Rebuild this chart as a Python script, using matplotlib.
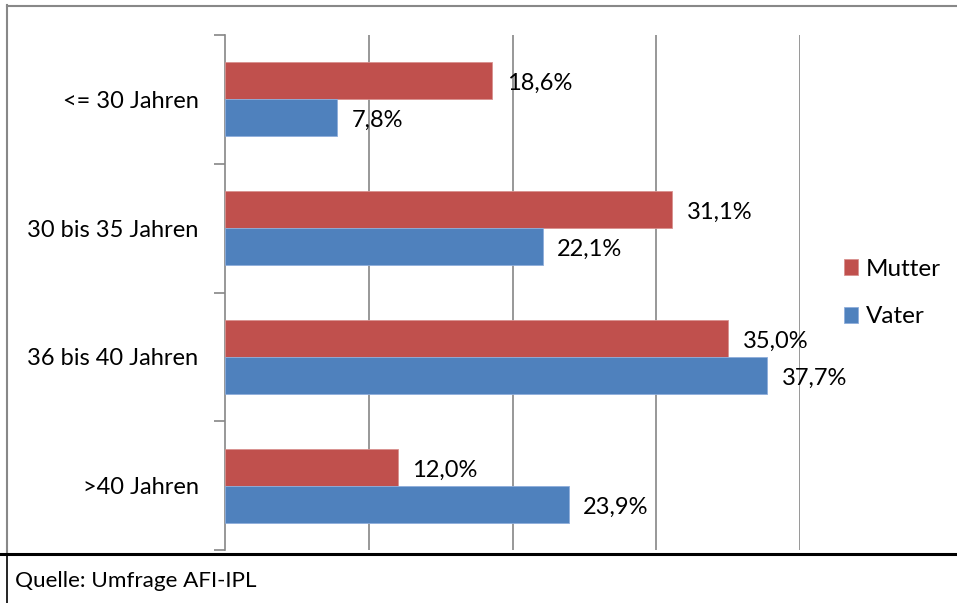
import matplotlib
matplotlib.use('Agg')
import matplotlib.pyplot as plt
from matplotlib.lines import Line2D
import numpy as np

# data
categories = ['<= 30 Jahren', '30 bis 35 Jahren', '36 bis 40 Jahren', '>40 Jahren']
mutter = [18.6, 31.1, 35.0, 12.0]
vater = [7.8, 22.1, 37.7, 23.9]
series_names = ['Mutter', 'Vater']
source = 'Quelle: Umfrage AFI-IPL'

red = '#C0504D'
blue = '#4F81BD'
grid_col = '#868686'

plt.rcParams['font.family'] = ['Lato', 'DejaVu Sans']

W, H = 957, 603
fig = plt.figure(figsize=(W / 100, H / 100), dpi=100)

# plot area in pixel coords
left, right, top, bottom = 225, 800, 35, 550
ax = fig.add_axes([left / W, 1 - bottom / H, (right - left) / W, (bottom - top) / H])

n = len(categories)
ypos = np.arange(n)[::-1]  # first category on top
h = 0.287

ax.barh(ypos + h / 2, mutter, height=h, color=red, edgecolor='#D9918F', linewidth=0.6,
        label=series_names[0], zorder=3)
ax.barh(ypos - h / 2, vater, height=h, color=blue, edgecolor='#8FAEDB', linewidth=0.6,
        label=series_names[1], zorder=3)

for y, m, v in zip(ypos, mutter, vater):
    ax.annotate(f'{m:.1f}%'.replace('.', ','), (m, y + h / 2), xytext=(10.5, -2),
                textcoords='offset points', va='center', ha='left', fontsize=17, zorder=4)
    ax.annotate(f'{v:.1f}%'.replace('.', ','), (v, y - h / 2), xytext=(10.5, -2),
                textcoords='offset points', va='center', ha='left', fontsize=17, zorder=4)

ax.set_xlim(0, 40)
ax.set_ylim(-0.5, n - 0.5)
ax.set_xticks([10, 20, 30, 40])
ax.xaxis.grid(True, color=grid_col, linewidth=1.2, zorder=0)
ax.tick_params(axis='x', length=0, labelbottom=False)

ax.set_yticks(np.arange(-0.5, n, 1.0))
ax.set_yticklabels([])
ax.set_yticks(ypos, minor=True)
ax.set_yticklabels(categories, minor=True, fontsize=17)
ax.tick_params(axis='y', which='major', direction='out', length=8, color=grid_col, width=1.2)
ax.tick_params(axis='y', which='minor', length=0, pad=19)

for s in ['top', 'right', 'bottom']:
    ax.spines[s].set_visible(False)
ax.spines['left'].set_color(grid_col)
ax.spines['left'].set_linewidth(1.2)

fig.legend(loc='center left', bbox_to_anchor=(822 / W, 1 - 293 / H), frameon=False,
           fontsize=17.5, handlelength=0.6, handleheight=0.6, handletextpad=0.3,
           labelspacing=1.1)

# outer frame and source line
fig.add_artist(Line2D([7 / W, 7 / W], [1 - 5 / H, 1 - 554 / H], color='#888888', lw=1.5,
                      transform=fig.transFigure))
fig.add_artist(Line2D([7 / W, 7 / W], [1 - 554 / H, 0], color='black', lw=1.2,
                      transform=fig.transFigure))
fig.add_artist(Line2D([7 / W, 1], [1 - 5.5 / H, 1 - 5.5 / H], color='#888888', lw=1.5,
                      transform=fig.transFigure))
fig.add_artist(Line2D([0, 1], [1 - 554 / H, 1 - 554 / H], color='black', lw=2.2,
                      transform=fig.transFigure))
fig.text(15 / W, 1 - 581 / H, source, fontsize=16.2, va='center', ha='left')

fig.savefig('out.png', dpi=100)
